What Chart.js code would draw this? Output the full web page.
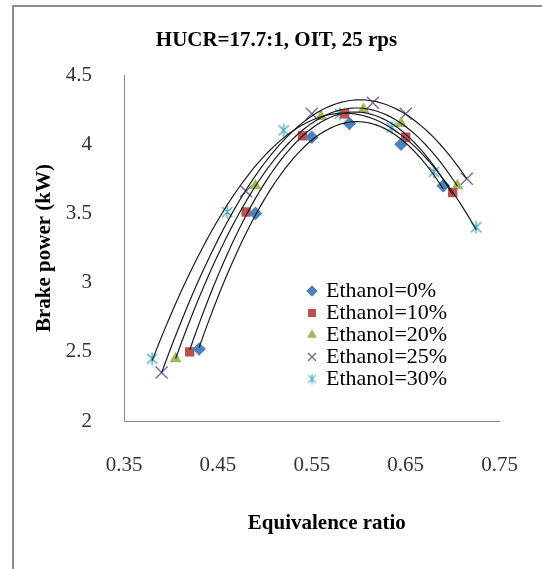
<!DOCTYPE html>
<html>
<head>
<meta charset="utf-8">
<script src="https://cdn.jsdelivr.net/npm/chart.js@4.4.1/dist/chart.umd.min.js"></script>
<style>
  html, body { margin: 0; padding: 0; background: #fff; }
  #wrap { position: relative; width: 542px; height: 569px; overflow: hidden; }
  #frame { position: absolute; left: 12px; top: 5px; width: 600px; height: 640px;
           border-left: 2px solid #8c8c8c; border-top: 2px solid #8c8c8c; }
  #c { position: absolute; left: 0; top: 0; }
</style>
</head>
<body>
<div id="wrap">
  <div id="frame"></div>
  <canvas id="c" width="542" height="569"></canvas>
</div>
<script>
// Brake power against equivalence ratio, one series per ethanol blend
const chartTitle = 'HUCR=17.7:1, OIT, 25 rps';
const xTitle = 'Equivalence ratio';
const yTitle = 'Brake power (kW)';

const seriesNames = ['Ethanol=0%', 'Ethanol=10%', 'Ethanol=20%', 'Ethanol=25%', 'Ethanol=30%'];

const phi0  = [0.430, 0.490, 0.550, 0.590, 0.645, 0.690];
const bp0   = [2.52, 3.50, 4.05, 4.15, 4.00, 3.70];

const phi10 = [0.420, 0.480, 0.540, 0.585, 0.650, 0.700];
const bp10  = [2.50, 3.51, 4.06, 4.22, 4.05, 3.65];

const phi20 = [0.405, 0.490, 0.560, 0.605, 0.645, 0.705];
const bp20  = [2.45, 3.70, 4.20, 4.25, 4.15, 3.70];

const phi25 = [0.390, 0.480, 0.550, 0.615, 0.650, 0.715];
const bp25  = [2.35, 3.66, 4.22, 4.30, 4.22, 3.75];

const phi30 = [0.380, 0.460, 0.520, 0.580, 0.635, 0.680, 0.725];
const bp30  = [2.45, 3.51, 4.10, 4.22, 4.12, 3.80, 3.40];

const xTickValues = [0.35, 0.45, 0.55, 0.65, 0.75];
const yTickValues = [2, 2.5, 3, 3.5, 4, 4.5];

const phiSets = [phi0, phi10, phi20, phi25, phi30];
const bpSets  = [bp0, bp10, bp20, bp25, bp30];

const FONT = '"Liberation Serif", "Times New Roman", serif';
const colors = ['#4F81BD', '#C0504D', '#9BBB59', '#8064A2', '#4BACC6'];

// Asterisk marker: an X with a vertical stroke
function asteriskMark(size, color, lw) {
  const c = document.createElement('canvas');
  c.width = size; c.height = size;
  const g = c.getContext('2d');
  g.strokeStyle = color; g.lineWidth = lw; g.lineCap = 'butt';
  const m = size / 2, r = size / 2 - 0.5, d = r * 0.78;
  g.beginPath();
  g.moveTo(m, m - r); g.lineTo(m, m + r);
  g.moveTo(m - d, m - d); g.lineTo(m + d, m + d);
  g.moveTo(m + d, m - d); g.lineTo(m - d, m + d);
  g.stroke();
  return c;
}
const starBig = asteriskMark(14, colors[4], 1.4);
const starSmall = asteriskMark(11, colors[4], 1.2);

const markerStyles = ['rectRot', 'rect', 'triangle', 'crossRot', starBig];
const markerRadius = [6.8, 6.6, 7, 8.5, 7];

// Second-order least-squares trendline through a series
function quadFit(xs, ys) {
  let s = [0, 0, 0, 0, 0], t = [0, 0, 0];
  xs.forEach((x, i) => {
    let p = 1;
    for (let k = 0; k < 5; k++) { s[k] += p; if (k < 3) t[k] += p * ys[i]; p *= x; }
  });
  const A = [[s[0], s[1], s[2], t[0]], [s[1], s[2], s[3], t[1]], [s[2], s[3], s[4], t[2]]];
  for (let i = 0; i < 3; i++) {
    for (let j = i + 1; j < 3; j++) {
      const f = A[j][i] / A[i][i];
      for (let k = i; k < 4; k++) A[j][k] -= f * A[i][k];
    }
  }
  const c = [0, 0, 0];
  for (let i = 2; i >= 0; i--) {
    let v = A[i][3];
    for (let k = i + 1; k < 3; k++) v -= A[i][k] * c[k];
    c[i] = v / A[i][i];
  }
  return c;
}
function trendPoints(xs, ys) {
  const c = quadFit(xs, ys);
  const lo = Math.min(...xs), hi = Math.max(...xs), n = 80, out = [];
  for (let i = 0; i <= n; i++) {
    const x = lo + (hi - lo) * i / n;
    out.push({ x, y: c[0] + c[1] * x + c[2] * x * x });
  }
  return out;
}

const datasets = [];
seriesNames.forEach((name, i) => {
  datasets.push({
    label: name + ' trend',
    isTrend: true,
    data: trendPoints(phiSets[i], bpSets[i]),
    showLine: true,
    borderColor: '#1c1c1c',
    borderWidth: 1.2,
    pointRadius: 0,
    fill: false,
    order: 0
  });
});
seriesNames.forEach((name, i) => {
  const cross = markerStyles[i] === 'crossRot';
  datasets.push({
    label: name,
    data: phiSets[i].map((x, k) => ({ x, y: bpSets[i][k] })),
    showLine: false,
    pointStyle: markerStyles[i],
    pointRadius: markerRadius[i],
    backgroundColor: colors[i],
    borderColor: colors[i],
    borderWidth: cross ? 1.4 : 0,
    pointBorderWidth: cross ? 1.4 : 0,
    order: 1
  });
});

// Axis and chart captions
const captions = {
  id: 'captions',
  afterDraw(chart) {
    const { ctx, chartArea: a } = chart;
    ctx.save();
    ctx.fillStyle = '#000';
    ctx.textAlign = 'center';
    ctx.textBaseline = 'middle';
    ctx.font = 'bold 21px ' + FONT;
    ctx.fillText(chartTitle, 276.5, 41);
    ctx.fillText(xTitle, (a.left + a.right) / 2 + 15, a.bottom + 103);
    ctx.restore();
  }
};

// Legend box sits inside the plot, lower right; markers may overhang its edge
const legendPlace = {
  id: 'legendPlace',
  afterLayout(chart) {
    const lg = chart.legend, a = chart.chartArea;
    if (!lg) return;
    const x = a.left + 185, y = a.top + 205;
    lg.left = x; lg.top = y;
    lg.right = x + lg.width; lg.bottom = y + lg.height;
    lg.draw = function () { if (this.options.display) this._draw(); };
  }
};

new Chart(document.getElementById('c'), {
  type: 'scatter',
  data: { datasets },
  options: {
    responsive: false,
    animation: false,
    devicePixelRatio: 1,
    layout: { padding: { top: 75, left: 12, right: 37, bottom: 0 } },
    plugins: {
      title: { display: false },
      tooltip: { enabled: false },
      legend: {
        display: true,
        position: 'chartArea',
        align: 'start',
        labels: {
          usePointStyle: true,
          boxWidth: 6,
          boxHeight: 8,
          padding: 0,
          color: '#000',
          font: { family: FONT, size: 22 },
          filter: (item, data) => !data.datasets[item.datasetIndex].isTrend,
          generateLabels(chart) {
            const items = Chart.defaults.plugins.legend.labels.generateLabels(chart);
            items.forEach(it => { if (it.pointStyle === starBig) it.pointStyle = starSmall; });
            return items;
          }
        }
      }
    },
    scales: {
      x: {
        type: 'linear',
        position: 'bottom',
        min: 0.35, max: 0.75,
        grid: { display: false },
        border: { display: true, color: '#868686', width: 1 },
        afterFit: s => { s.height = 148; },
        afterBuildTicks: s => { s.ticks = xTickValues.map(v => ({ value: v })); },
        ticks: {
          padding: 24,
          color: '#333',
          font: { family: FONT, size: 21 },
          callback: v => String(v)
        }
      },
      y: {
        type: 'linear',
        position: 'left',
        min: 2, max: 4.5,
        grid: { display: false },
        border: { display: true, color: '#868686', width: 1 },
        afterFit: s => { s.width = 112; },
        afterBuildTicks: s => { s.ticks = yTickValues.map(v => ({ value: v })); },
        title: {
          display: true,
          text: yTitle,
          color: '#000',
          font: { family: FONT, size: 21, weight: 'bold' },
          padding: { top: 20, bottom: 0 }
        },
        ticks: {
          padding: 24,
          color: '#333',
          font: { family: FONT, size: 21 },
          callback: v => String(v)
        }
      }
    }
  },
  plugins: [captions, legendPlace]
});
</script>
</body>
</html>
